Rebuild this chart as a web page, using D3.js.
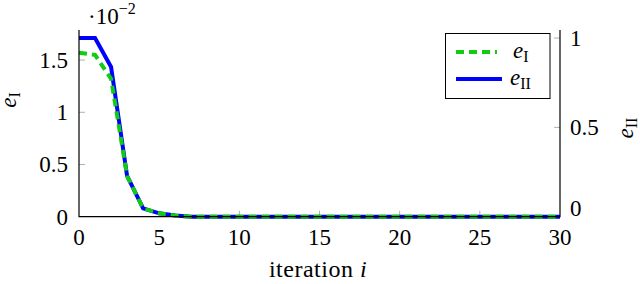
<!DOCTYPE html>
<html>
<head>
<meta charset="utf-8">
<script src="https://cdn.jsdelivr.net/npm/d3@7"></script>
<style>
  body { margin: 0; background: #fff; }
  text { font-family: "Liberation Serif", "DejaVu Serif", serif; fill: #000; }
</style>
</head>
<body>
<div id="chart"></div>
<script>
  // values
  var iterations = d3.range(0, 31);
  var eI  = [1.57, 1.55, 1.32, 0.39, 0.08, 0.033, 0.011, 0, 0, 0, 0, 0, 0, 0, 0, 0, 0, 0, 0, 0, 0, 0, 0, 0, 0, 0, 0, 0, 0, 0, 0];
  var eII = [1.0, 1.0, 0.838, 0.228, 0.047, 0.019, 0.007, 0, 0, 0, 0, 0, 0, 0, 0, 0, 0, 0, 0, 0, 0, 0, 0, 0, 0, 0, 0, 0, 0, 0, 0];
  var xTicks = [0, 5, 10, 15, 20, 25, 30];
  var leftTicks = [0, 0.5, 1, 1.5];
  var rightTicks = [0, 0.5, 1];

  (function () {
    var width = 640, height = 284;
    var pl = 79, pr = 560, pt = 30, pb = 216.7;
    var blue = '#0000ff', green = '#11cc11';

    var svg = d3.select('#chart').append('svg')
      .attr('width', width)
      .attr('height', height);

    var x = d3.scaleLinear().domain([0, 30]).range([pl, pr]);
    var yL = d3.scaleLinear().domain([0, 1.788]).range([pb, pt]);
    var yR = d3.scaleLinear().domain([0, 1.045]).range([pb, pt]);

    // tick marks (grey, pointing into the plot)
    var tickCol = '#b0b0b0';
    svg.selectAll('.xt').data(xTicks.slice(1, -1)).enter().append('line')
      .attr('x1', function (d) { return x(d); }).attr('x2', function (d) { return x(d); })
      .attr('y1', pb).attr('y2', pb - 6)
      .style('stroke', tickCol).style('stroke-width', 1);
    svg.selectAll('.lt').data(leftTicks.slice(1)).enter().append('line')
      .attr('x1', pl).attr('x2', pl + 6)
      .attr('y1', function (d) { return yL(d); }).attr('y2', function (d) { return yL(d); })
      .style('stroke', tickCol).style('stroke-width', 1);
    svg.selectAll('.rt').data(rightTicks.slice(1)).enter().append('line')
      .attr('x1', pr).attr('x2', pr - 6)
      .attr('y1', function (d) { return yR(d); }).attr('y2', function (d) { return yR(d); })
      .style('stroke', tickCol).style('stroke-width', 1);

    // lines
    var lineII = d3.line().x(function (d, i) { return x(iterations[i]); }).y(function (d) { return yR(d); });
    var lineI = d3.line().x(function (d, i) { return x(iterations[i]); }).y(function (d) { return yL(d); });

    svg.append('path').datum(eII)
      .attr('d', lineII)
      .style('fill', 'none').style('stroke', blue).style('stroke-width', 4);
    svg.append('path').datum(eI)
      .attr('d', lineI)
      .style('fill', 'none').style('stroke', green).style('stroke-width', 4)
      .style('stroke-dasharray', '8,5');

    // axis lines
    svg.append('path')
      .attr('d', 'M' + pl + ',' + pt + 'V' + pb + 'H' + pr + 'V' + pt)
      .style('fill', 'none').style('stroke', '#000').style('stroke-width', 1.2);

    // tick labels
    var fs = 23;
    svg.selectAll('.xl').data(xTicks).enter().append('text')
      .attr('x', function (d) { return x(d); })
      .attr('y', 245)
      .attr('text-anchor', 'middle')
      .style('font-size', fs + 'px')
      .text(function (d) { return d; });
    svg.selectAll('.ll').data(leftTicks).enter().append('text')
      .attr('x', pl - 11)
      .attr('y', function (d) { return yL(d) + 8; })
      .attr('text-anchor', 'end')
      .style('font-size', fs + 'px')
      .text(function (d) { return d; });
    svg.selectAll('.rl').data(rightTicks).enter().append('text')
      .attr('x', pr + 10)
      .attr('y', function (d) { return d === 0 ? yR(d) - 1 : yR(d) + 8; })
      .attr('text-anchor', 'start')
      .style('font-size', fs + 'px')
      .text(function (d) { return d; });

    // scale factor
    var sf = svg.append('text').attr('x', 88).attr('y', 24).style('font-size', fs + 'px');
    sf.append('tspan').text('·10');
    sf.append('tspan').attr('dy', -10).style('font-size', '16px').text('−2');

    // axis labels
    var lab = svg.append('text')
      .attr('transform', 'translate(16,100) rotate(-90)')
      .attr('text-anchor', 'middle')
      .style('font-size', fs + 'px');
    lab.append('tspan').style('font-style', 'italic').text('e');
    lab.append('tspan').attr('dy', 4).style('font-size', '16px').text('I');

    var labR = svg.append('text')
      .attr('transform', 'translate(633,128) rotate(-90)')
      .attr('text-anchor', 'middle')
      .style('font-size', fs + 'px');
    labR.append('tspan').style('font-style', 'italic').text('e');
    labR.append('tspan').attr('dy', 4).style('font-size', '16px').text('II');

    var xl = svg.append('text')
      .attr('x', 318).attr('y', 277)
      .attr('text-anchor', 'middle')
      .style('font-size', '24px')
      .style('letter-spacing', '0.5px');
    xl.append('tspan').text('iteration ');
    xl.append('tspan').style('font-style', 'italic').text('i');

    // legend
    var lg = svg.append('g');
    lg.append('rect')
      .attr('x', 445.5).attr('y', 33.5).attr('width', 104.5).attr('height', 65)
      .style('fill', '#fff').style('stroke', '#000').style('stroke-width', 1);
    lg.append('line')
      .attr('x1', 456).attr('x2', 497).attr('y1', 52).attr('y2', 52)
      .style('stroke', green).style('stroke-width', 4).style('stroke-dasharray', '8,5');
    lg.append('line')
      .attr('x1', 456).attr('x2', 502).attr('y1', 79).attr('y2', 79)
      .style('stroke', blue).style('stroke-width', 4);
    var t1 = lg.append('text').attr('x', 513).attr('y', 58).style('font-size', fs + 'px');
    t1.append('tspan').style('font-style', 'italic').text('e');
    t1.append('tspan').attr('dy', 4).style('font-size', '16px').text('I');
    var t2 = lg.append('text').attr('x', 510).attr('y', 85).style('font-size', fs + 'px');
    t2.append('tspan').style('font-style', 'italic').text('e');
    t2.append('tspan').attr('dy', 4).style('font-size', '16px').text('II');
  })();
</script>
</body>
</html>
